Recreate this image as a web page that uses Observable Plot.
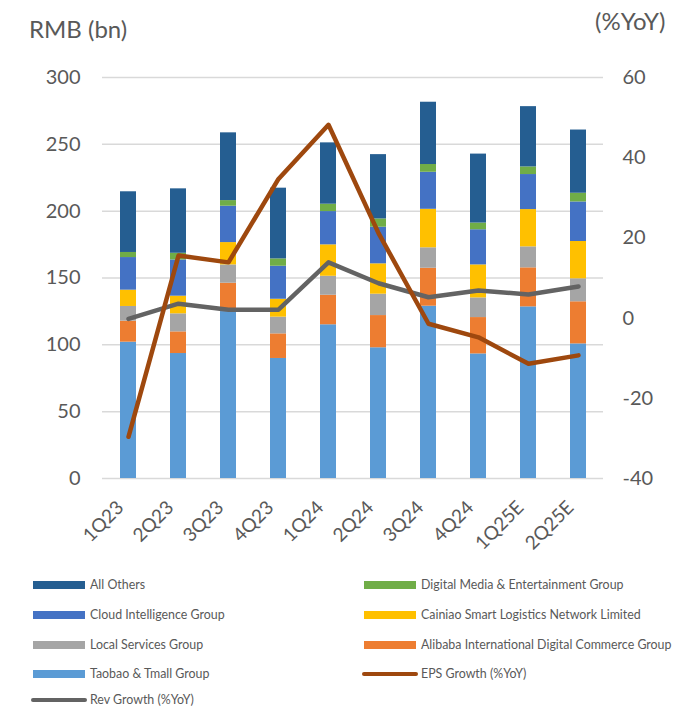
<!DOCTYPE html>
<html>
<head>
<meta charset="utf-8">
<script src="https://cdn.jsdelivr.net/npm/d3@7"></script>
<script src="https://cdn.jsdelivr.net/npm/@observablehq/plot@0.6"></script>
<style>
  body { margin: 0; background: #fff; font-family: Lato, "Liberation Sans", sans-serif; }
  #wrap { position: relative; width: 681px; height: 708px; overflow: hidden; }
  #legend { position: absolute; left: 0; top: 0; width: 681px; height: 708px; pointer-events: none; }
  .item { position: absolute; font-size: 12.4px; color: #595959; white-space: nowrap; line-height: 14px; }
  .sw { position: absolute; }
  .ttl { position: absolute; font-size: 24px; line-height: 24px; color: #595959; white-space: nowrap; }
</style>
</head>
<body>
<div id="wrap"><div id="chart"></div><div id="legend"></div></div>
<script>
const quarters = ["1Q23","2Q23","3Q23","4Q23","1Q24","2Q24","3Q24","4Q24","1Q25E","2Q25E"];
const taobao  = [102, 93.5, 124.9, 89.8, 115, 97.8, 128.9, 93.2, 128.4, 100.7];
const intl    = [15.7, 16.2, 21.2, 18.4, 22.1, 24.1, 28.4, 27.2, 29.2, 31.5];
const local   = [11, 13.5, 13.7, 12.5, 14.2, 16, 15.3, 14.7, 15.7, 17.2];
const cainiao = [12.2, 13.2, 16.7, 13.4, 23.5, 22.7, 28.8, 24.7, 27.9, 27.9];
const cloud   = [24.4, 27.1, 27.2, 24.7, 24.9, 27.4, 27.7, 26.3, 26.2, 29.6];
const dme     = [3.8, 5, 4.2, 5.5, 5.5, 6.2, 5.8, 5, 5.7, 6.5];
const others  = [45.4, 48.2, 50.7, 52.9, 45.9, 48.1, 46.6, 51.6, 45.1, 47.3];
const epsGrowth = [-29.6, 15.6, 13.9, 34.7, 48.2, 21.2, -1.4, -4.8, -11.4, -9.3];
const revGrowth = [-0.2, 3.6, 2.1, 2.1, 13.9, 8.7, 5.2, 6.9, 5.9, 7.9];

const leftTicks = [0, 50, 100, 150, 200, 250, 300];
const rightTicks = [-40, -20, 0, 20, 40, 60];
const leftTitle = "RMB (bn)", rightTitle = "(%YoY)";

const seriesNames = ["Taobao & Tmall Group", "Alibaba International Digital Commerce Group", "Local Services Group",
  "Cainiao Smart Logistics Network Limited", "Cloud Intelligence Group", "Digital Media & Entertainment Group", "All Others"];
const seriesValues = [taobao, intl, local, cainiao, cloud, dme, others];
const seriesColors = ["#5B9BD5", "#ED7D31", "#A5A5A5", "#FFC000", "#4472C4", "#70AD47", "#255E91"];
const epsName = "EPS Growth (%YoY)", revName = "Rev Growth (%YoY)";
const epsColor = "#9E480E", revColor = "#636363";

// map right axis (%YoY, -40..60) onto left axis (0..300)
const toLeft = g => (g + 40) * 3;

const bars = [];
quarters.forEach((q, i) => {
  seriesNames.forEach((s, j) => bars.push({q, s, v: seriesValues[j][i]}));
});
const growth = quarters.map((q, i) => ({q, eps: epsGrowth[i], rev: revGrowth[i]}));

const chart = Plot.plot({
  width: 681,
  height: 560,
  marginTop: 77,
  marginBottom: 82,
  marginLeft: 102,
  marginRight: 78,
  style: {fontFamily: "Lato, 'Liberation Sans', sans-serif", color: "#595959", background: "white", overflow: "visible"},
  x: {domain: quarters, paddingInner: 0.68, paddingOuter: 0.34},
  y: {domain: [0, 300]},
  color: {domain: seriesNames, range: seriesColors},
  marks: [
    Plot.gridY(leftTicks, {stroke: "#d9d9d9", strokeOpacity: 1, strokeWidth: 1.5}),
    Plot.barY(bars, {x: "q", y: "v", fill: "s", inset: 0}),
    Plot.axisY(leftTicks, {anchor: "left", tickSize: 0, tickPadding: 22, fontSize: 20, label: null, tickFormat: d => String(d)}),
    Plot.axisY(rightTicks.map(toLeft), {anchor: "right", tickSize: 0, tickPadding: 19, fontSize: 20, label: null, textAnchor: "start", tickFormat: d => String(d / 3 - 40)}),
    Plot.axisX({tickRotate: -45, tickSize: 0, tickPadding: 26, dx: -8, fontSize: 19, label: null}),
    Plot.lineY(growth, {x: "q", y: d => toLeft(d.rev), stroke: revColor, strokeWidth: 4.5, strokeLinejoin: "round", strokeLinecap: "round"}),
    Plot.lineY(growth, {x: "q", y: d => toLeft(d.eps), stroke: epsColor, strokeWidth: 4.5, strokeLinejoin: "round", strokeLinecap: "round"})
  ]
});
document.getElementById("chart").appendChild(chart);

const wrap = document.getElementById("wrap");
[[leftTitle, 29, 17, "24px"], [rightTitle, 595, 9, "24px"]].forEach(([txt, x, y, fs]) => {
  const d = document.createElement("div");
  d.className = "ttl";
  d.textContent = txt;
  Object.assign(d.style, {left: x + "px", top: y + "px", fontSize: fs});
  wrap.appendChild(d);
});

// Legend
const legend = document.getElementById("legend");
const legendItems = [
  {name: "All Others", color: "#255E91", type: "rect", col: 0, row: 0},
  {name: "Digital Media & Entertainment Group", color: "#70AD47", type: "rect", col: 1, row: 0},
  {name: "Cloud Intelligence Group", color: "#4472C4", type: "rect", col: 0, row: 1},
  {name: "Cainiao Smart Logistics Network Limited", color: "#FFC000", type: "rect", col: 1, row: 1},
  {name: "Local Services Group", color: "#A5A5A5", type: "rect", col: 0, row: 2},
  {name: "Alibaba International Digital Commerce Group", color: "#ED7D31", type: "rect", col: 1, row: 2},
  {name: "Taobao & Tmall Group", color: "#5B9BD5", type: "rect", col: 0, row: 3},
  {name: epsName, color: epsColor, type: "line", col: 1, row: 3},
  {name: revName, color: revColor, type: "line", col: 0, row: 4}
];
const colX = [33, 364], rowY = [585, 615, 645, 674, 700];
legendItems.forEach(it => {
  const sw = document.createElement("div");
  sw.className = "sw";
  const x = colX[it.col], y = rowY[it.row];
  if (it.type === "rect") {
    Object.assign(sw.style, {left: x + "px", top: (y - 4) + "px", width: "52px", height: "8px", background: it.color});
  } else {
    Object.assign(sw.style, {left: (x - 2) + "px", top: (y - 2) + "px", width: "56px", height: "4px", background: it.color, borderRadius: "2px"});
  }
  legend.appendChild(sw);
  const t = document.createElement("div");
  t.className = "item";
  t.textContent = it.name;
  Object.assign(t.style, {left: (x + 57) + "px", top: (y - 7) + "px"});
  legend.appendChild(t);
});
</script>
</body>
</html>
